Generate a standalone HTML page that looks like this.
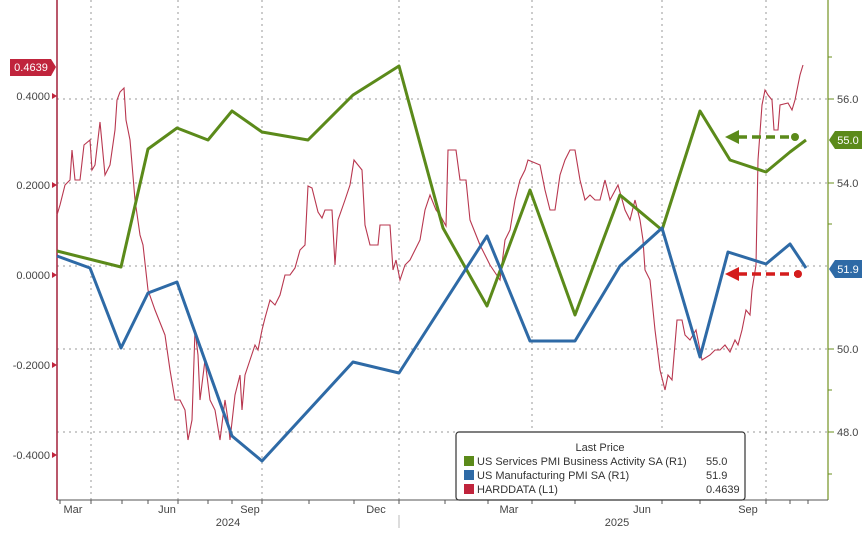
<!DOCTYPE html>
<html><head><meta charset="utf-8"><style>
body{margin:0;background:#fff;}
svg{display:block;font-family:"Liberation Sans",sans-serif;}
</style></head><body>
<svg width="865" height="536" viewBox="0 0 865 536">
<g stroke="#999" stroke-width="1" stroke-dasharray="2,4">
<line x1="57" x2="828" y1="99" y2="99"/><line x1="57" x2="828" y1="183" y2="183"/>
<line x1="57" x2="828" y1="266" y2="266"/><line x1="57" x2="828" y1="349" y2="349"/>
<line x1="57" x2="828" y1="432" y2="432"/>
<line x1="91" x2="91" y1="0" y2="500"/><line x1="178" x2="178" y1="0" y2="500"/>
<line x1="262" x2="262" y1="0" y2="500"/><line x1="399" x2="399" y1="0" y2="500"/>
<line x1="532" x2="532" y1="0" y2="500"/><line x1="662" x2="662" y1="0" y2="500"/>
<line x1="766" x2="766" y1="0" y2="500"/>
</g>
<line x1="57" y1="0" x2="57" y2="500" stroke="#a3203a" stroke-width="1.5"/>
<line x1="828" y1="0" x2="828" y2="500" stroke="#8fa84e" stroke-width="1.5"/>
<line x1="57" y1="500" x2="828" y2="500" stroke="#555" stroke-width="1"/>
<g stroke="#555"><line x1="60" x2="60" y1="500" y2="504"/><line x1="91" x2="91" y1="500" y2="504"/><line x1="122" x2="122" y1="500" y2="504"/><line x1="148" x2="148" y1="500" y2="504"/><line x1="178" x2="178" y1="500" y2="504"/><line x1="208" x2="208" y1="500" y2="504"/><line x1="232" x2="232" y1="500" y2="504"/><line x1="262" x2="262" y1="500" y2="504"/><line x1="309" x2="309" y1="500" y2="504"/><line x1="354" x2="354" y1="500" y2="504"/><line x1="399" x2="399" y1="500" y2="504"/><line x1="445" x2="445" y1="500" y2="504"/><line x1="488" x2="488" y1="500" y2="504"/><line x1="532" x2="532" y1="500" y2="504"/><line x1="575" x2="575" y1="500" y2="504"/><line x1="662" x2="662" y1="500" y2="504"/><line x1="700" x2="700" y1="500" y2="504"/><line x1="766" x2="766" y1="500" y2="504"/><line x1="790" x2="790" y1="500" y2="504"/><line x1="808" x2="808" y1="500" y2="504"/></g>
<line x1="399" y1="515" x2="399" y2="528" stroke="#bbb"/>
<g font-size="11" fill="#444" text-anchor="middle">
<text x="73" y="513">Mar</text><text x="167" y="513">Jun</text><text x="250" y="513">Sep</text><text x="376" y="513">Dec</text>
<text x="509" y="513">Mar</text><text x="642" y="513">Jun</text><text x="748" y="513">Sep</text>
<text x="228" y="526">2024</text><text x="617" y="526">2025</text>
</g>
<g font-size="11" fill="#444" text-anchor="end">
<text x="50" y="100">0.4000</text><text x="50" y="189">0.2000</text><text x="50" y="279">0.0000</text>
<text x="50" y="369">-0.2000</text><text x="50" y="459">-0.4000</text>
</g>
<g fill="#c0243c"><path d="M52,93 l5,3 l-5,3z"/><path d="M52,182 l5,3 l-5,3z"/><path d="M52,272 l5,3 l-5,3z"/><path d="M52,362 l5,3 l-5,3z"/><path d="M52,452 l5,3 l-5,3z"/></g>
<g font-size="11" fill="#444">
<text x="837" y="103">56.0</text><text x="837" y="187">54.0</text><text x="837" y="353">50.0</text><text x="837" y="436">48.0</text>
</g>
<g stroke="#6a8f1e"><line x1="828" x2="834" y1="99" y2="99"/><line x1="828" x2="834" y1="183" y2="183"/><line x1="828" x2="834" y1="349" y2="349"/><line x1="828" x2="834" y1="432" y2="432"/><line x1="828" x2="832" y1="57" y2="57"/><line x1="828" x2="832" y1="224" y2="224"/><line x1="828" x2="832" y1="390" y2="390"/><line x1="828" x2="832" y1="474" y2="474"/></g>
<polyline fill="none" stroke="#b8374f" stroke-width="1.1" points="57,215 60,205 65,185 70,180 72,150 75,180 80,180 84,145 90,140 92,170 95,165 100,122 105,175 110,165 115,130 117,100 120,92 124,88 126,120 130,140 135,200 140,235 143,245 148,290 155,310 165,335 170,370 175,400 180,400 185,410 188,440 192,420 195,330 198,355 200,400 205,360 210,400 215,410 220,440 225,400 228,420 230,440 235,395 240,375 242,410 245,375 250,360 255,345 258,350 262,330 265,318 270,300 275,305 280,295 285,275 290,275 295,268 300,250 305,245 308,186 312,188 318,212 322,218 325,210 332,210 335,265 338,220 345,200 350,185 354,160 358,165 362,170 365,225 370,245 378,245 380,225 390,225 393,270 396,260 400,280 405,265 410,260 415,250 420,240 425,210 430,195 436,210 440,215 446,226 448,150 456,150 460,180 466,180 470,220 480,245 490,265 500,280 505,240 510,230 515,200 520,180 525,170 528,160 540,165 545,190 550,210 555,210 560,175 565,160 570,150 575,150 580,180 585,200 590,195 595,200 600,200 605,180 610,200 618,185 625,210 630,220 635,200 640,220 643,240 645,270 650,280 655,330 660,370 665,390 668,375 672,380 677,320 682,320 685,335 690,340 696,330 702,360 710,355 715,350 720,350 725,345 730,352 735,340 738,345 742,330 746,310 750,315 752,290 756,265 758,160 762,105 765,90 768,95 772,100 774,130 778,130 780,105 788,103 792,110 795,100 800,75 803,65"/>
<polyline fill="none" stroke="#5b8a1a" stroke-width="3" stroke-linejoin="round" points="57,251 121,267 148,149 177,128 208,140 232,111 262,132 308,140 353,95 399,66 443,228 487,306 530,190 575,315 620,195 662,230 700,111 730,160 766,172 790,152 806,140"/>
<polyline fill="none" stroke="#2e6aa6" stroke-width="3" stroke-linejoin="round" points="57,256 90,268 121,348 148,293 177,282 232,436 262,461 353,362 399,373 487,236 530,341 575,341 620,266 662,228 700,357 728,252 766,264 790,244 806,268"/>
<line x1="738" y1="137" x2="794" y2="137" stroke="#5b8a1a" stroke-width="3.5" stroke-dasharray="9,5"/>
<path d="M725,137 l14,-7 v14z" fill="#5b8a1a"/><circle cx="795" cy="137" r="4" fill="#5b8a1a"/>
<line x1="738" y1="274" x2="797" y2="274" stroke="#d41c1c" stroke-width="3.5" stroke-dasharray="9,5"/>
<path d="M725,274 l14,-7 v14z" fill="#d41c1c"/><circle cx="798" cy="274" r="4" fill="#d41c1c"/>
<path d="M10,59 H51 L56,67 L51,76 H10z" fill="#c0243c"/>
<text x="31" y="71" font-size="11" fill="#fff" text-anchor="middle">0.4639</text>
<path d="M829,140 L835,131 H862 V149 H835z" fill="#5b8a1a"/>
<text x="848" y="144" font-size="11" fill="#fff" text-anchor="middle">55.0</text>
<path d="M829,269 L835,260 H862 V278 H835z" fill="#2e6aa6"/>
<text x="848" y="273" font-size="11" fill="#fff" text-anchor="middle">51.9</text>
<rect x="456" y="432" width="289" height="68" rx="3" fill="#fff" stroke="#333" stroke-width="1.2"/>
<g font-size="11" fill="#333">
<text x="600" y="451" text-anchor="middle">Last Price</text>
<rect x="464" y="456" width="10" height="10" fill="#5b8a1a"/><text x="477" y="465">US Services PMI Business Activity SA  (R1)</text><text x="706" y="465">55.0</text>
<rect x="464" y="470" width="10" height="10" fill="#2e6aa6"/><text x="477" y="479">US Manufacturing PMI SA  (R1)</text><text x="706" y="479">51.9</text>
<rect x="464" y="484" width="10" height="10" fill="#c0243c"/><text x="477" y="493">HARDDATA  (L1)</text><text x="706" y="493">0.4639</text>
</g>
</svg>
</body></html>
